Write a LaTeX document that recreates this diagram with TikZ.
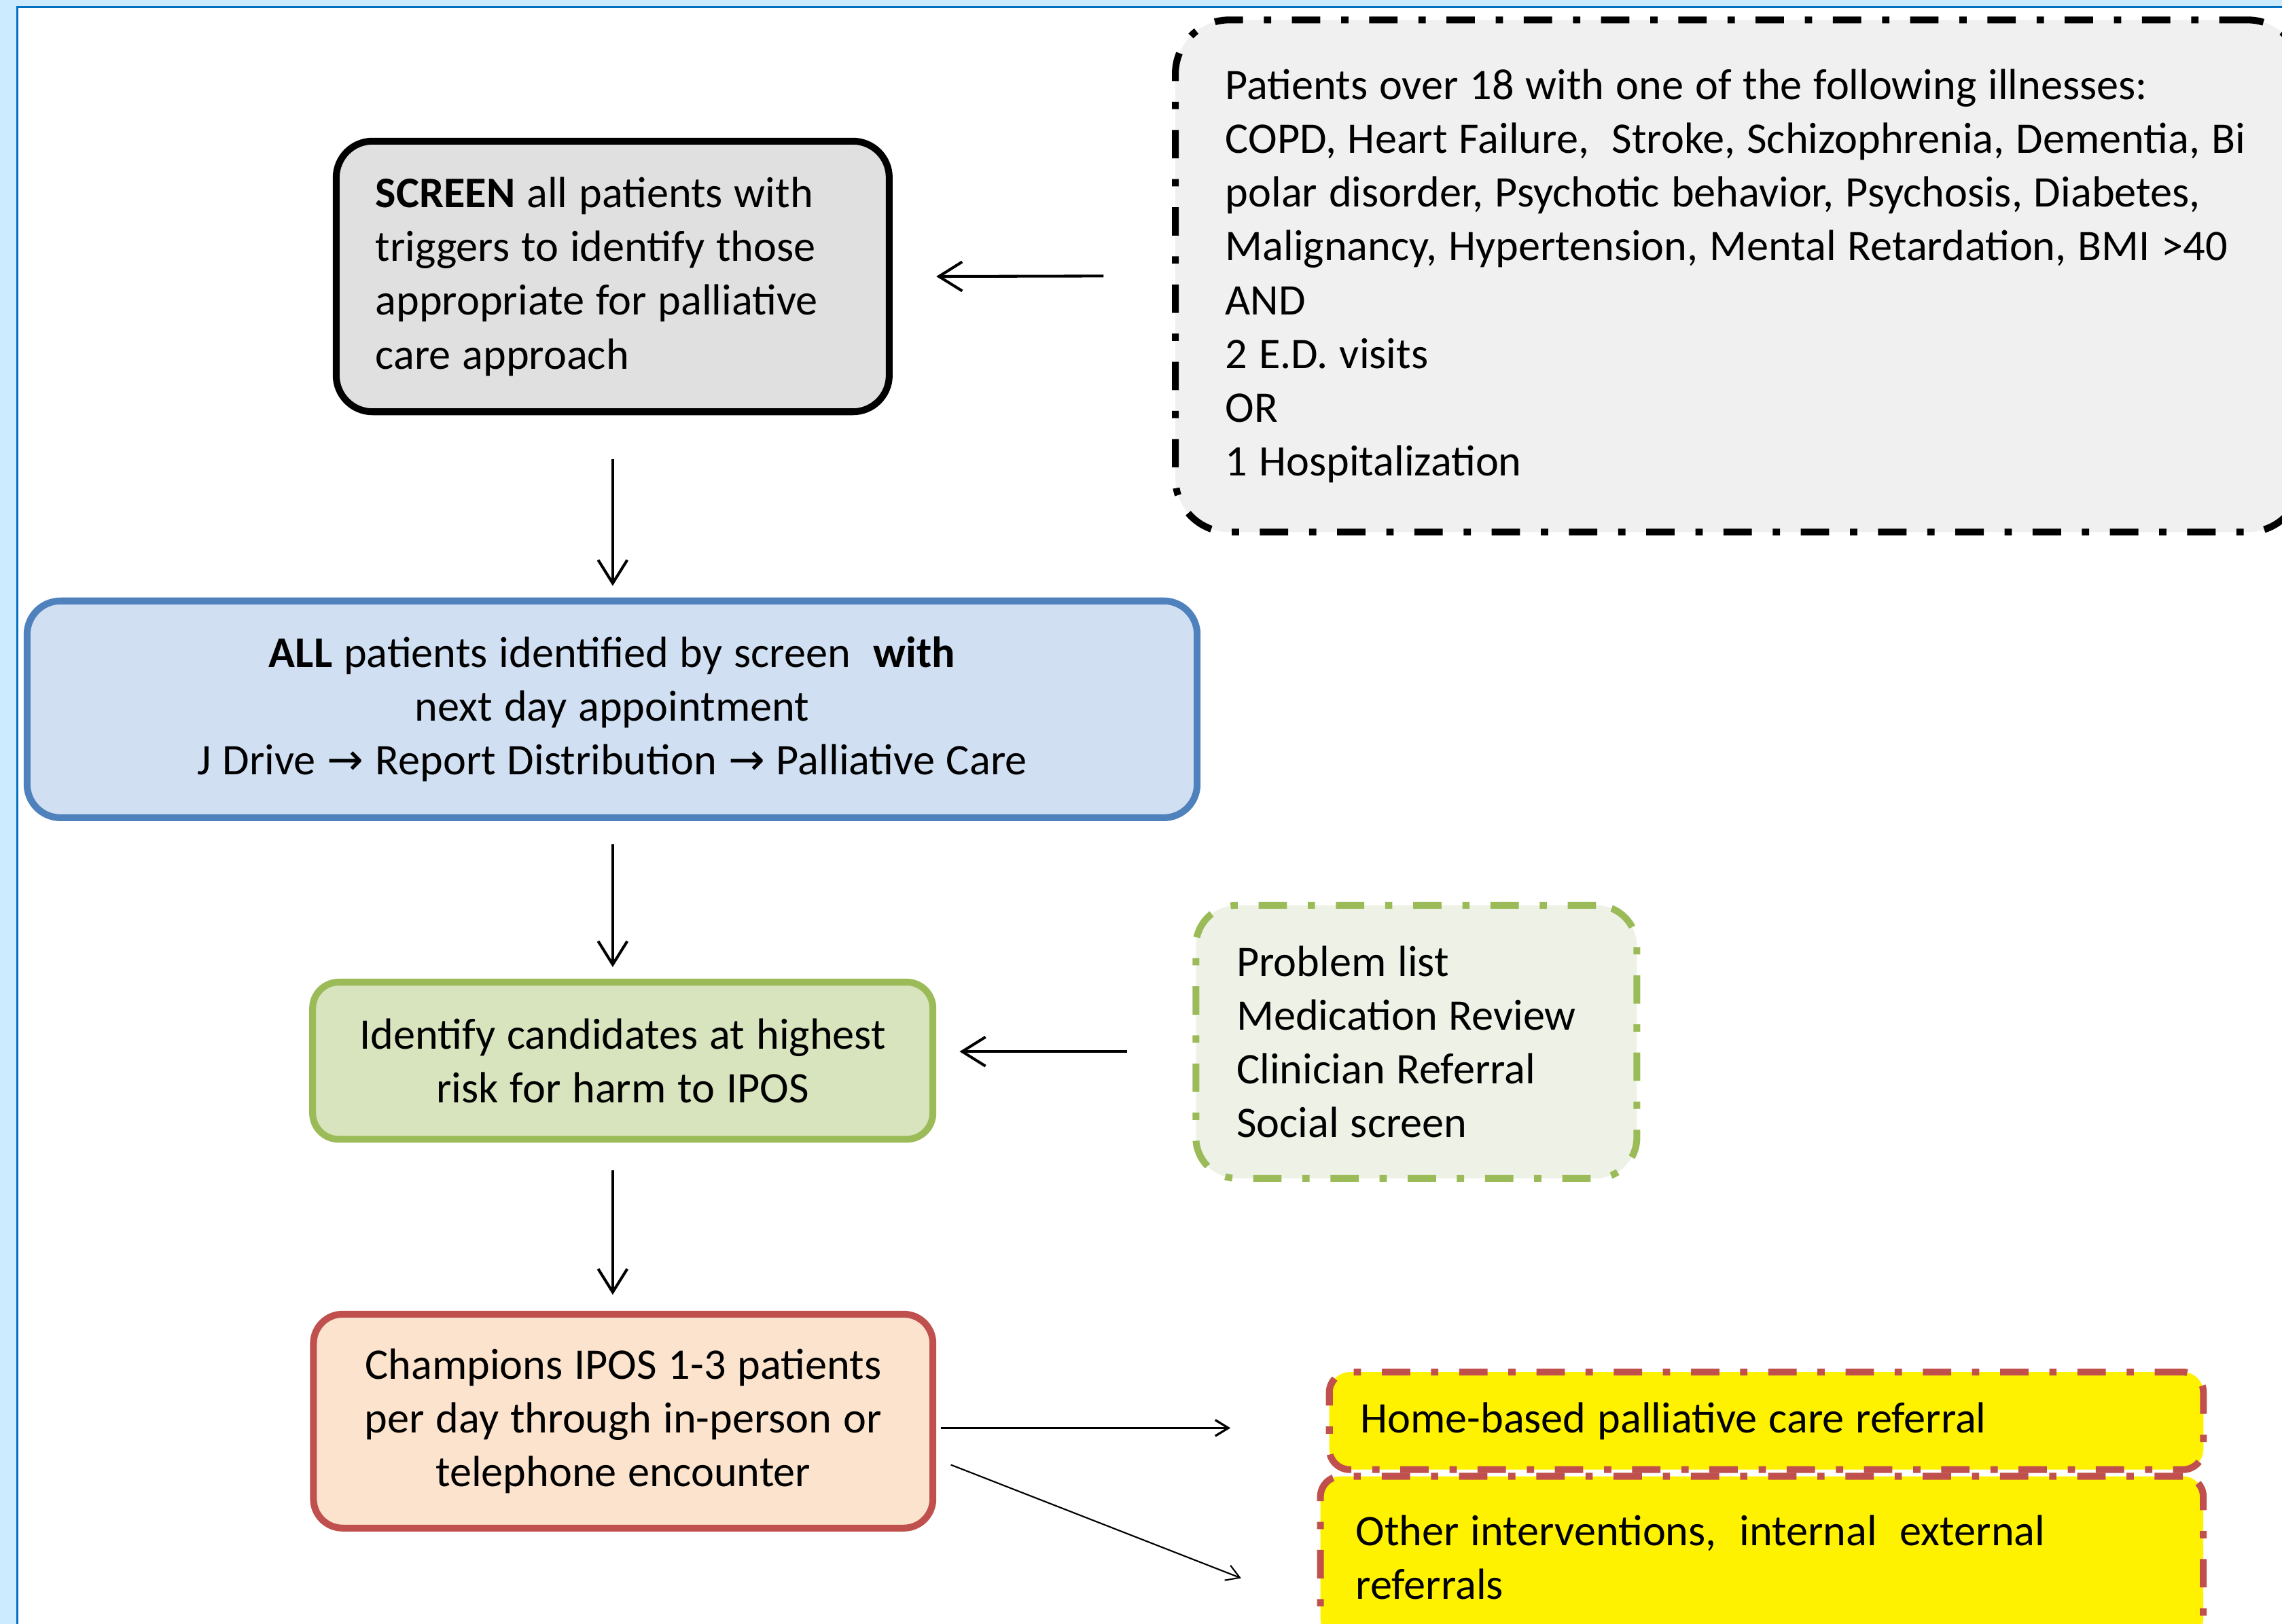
\documentclass[tikz,border=0pt]{standalone}
\usepackage{fontspec}
\setmainfont{Carlito}
\newfontfamily\dejavu{DejaVu Sans}
\usepackage{tikz}
\usetikzlibrary{arrows.meta}
\definecolor{BGblue}{HTML}{CCEBFF}
\definecolor{FRAMEblue}{HTML}{0070C0}
\definecolor{SCRfill}{HTML}{E0E0E0}
\definecolor{CRITfill}{HTML}{F0F0F0}
\definecolor{ALLfill}{HTML}{D0DFF2}
\definecolor{ALLline}{HTML}{4F81BD}
\definecolor{IDfill}{HTML}{D7E4BD}
\definecolor{IDline}{HTML}{9BBB59}
\definecolor{TOOLfill}{HTML}{EEF2E6}
\definecolor{CHfill}{HTML}{FBE3CD}
\definecolor{CHline}{HTML}{C0504D}

\begin{document}
\begin{tikzpicture}[x=1pt, y=-1pt]
    \tikzset{%
        box/.style={draw, line width=4.7pt, inner ysep=0pt, font=\fontsize{30}{37}\selectfont,
            execute at begin node={\spaceskip=7.9pt\relax}},
        dashdot/.style={dash pattern=on 19.5pt off 14.3pt on 5pt off 14.3pt},
        arr/.style={line width=1.9pt, -{Straight Barb[length=16pt,width=20pt]}},
        thinarr/.style={line width=#1, -{Straight Barb[length=9pt,width=11pt]}}
    }

    \clip (0, 0) rectangle (1568, 1116);
    \fill [BGblue] (0, 0) rectangle (1568, 1116);
    \fill [white] (12, 5) rectangle (1568, 1116);
    \draw [FRAMEblue, line width=1.4pt] (12, 1116) -- (12, 5) -- (1568, 5);

    \node [box, draw=black, fill=SCRfill, rounded corners=25pt, minimum height=186pt, text width=326pt, inner xsep=27pt, align=left] (screen) at (421, 190)
        {\textbf{SCREEN} all patients with\\ triggers to identify those\\ appropriate for palliative\\ care approach};
    \node [box, dashdot, draw=black, fill=CRITfill, rounded corners=37pt, minimum height=352pt, text width=705pt, inner xsep=34.4pt, align=left] (crit) at (1194.5, 189.7)
        {Patients over 18 with one of the following illnesses:\\ COPD, Heart Failure,~ Stroke, Schizophrenia, Dementia, Bi\\ polar disorder, Psychotic behavior, Psychosis, Diabetes,\\ Malignancy, Hypertension, Mental Retardation, BMI >40\\ AND\\ 2 E.D. visits\\ OR\\ 1 Hospitalization};
    \node [box, draw=ALLline, fill=ALLfill, rounded corners=23pt, minimum height=149pt, text width=760pt, inner xsep=22pt, align=center] (allpat) at (420.6, 487.5)
        {\textbf{ALL} patients identified by screen~ \textbf{with}\\ next day appointment\\ J Drive {\dejavu →} Report Distribution {\dejavu →} Palliative Care};
    \node [box, draw=IDline, fill=IDfill, rounded corners=18pt, minimum height=108pt, text width=390pt, inner xsep=18.1pt, align=center] (ident) at (427.9, 729)
        {Identify candidates at highest\\ risk for harm to IPOS};
    \node [box, dashdot, draw=IDline, fill=TOOLfill, rounded corners=28pt, minimum height=187.6pt, text width=247pt, inner xsep=28pt, align=left] (tools) at (973.2, 716)
        {Problem list\\ Medication Review\\ Clinician Referral\\ Social screen};
    \node [box, draw=CHline, fill=CHfill, rounded corners=20pt, minimum height=147pt, text width=390pt, inner xsep=17.8pt, align=center] (champ) at (428.2, 976.7)
        {Champions IPOS 1-3 patients\\ per day through in-person or\\ telephone encounter};
    \node [box, dashdot, draw=CHline, fill=yellow, rounded corners=14pt, minimum height=67pt, text width=558pt, inner xsep=21.3pt, align=left] (home) at (1213.7, 976.5)
        {Home-based palliative care referral};
    \node [box, dashdot, draw=CHline, fill=yellow, rounded corners=14pt, minimum height=111.4pt, text width=558pt, inner xsep=24.3pt, align=left] (other) at (1210.6, 1070.3)
        {Other interventions,~ internal~ external\\ referrals};

    \draw [arr] ([yshift=-30pt]screen.south) -- ([yshift=8pt]screen.south |- allpat.north);
    \draw [arr] ([xshift=-47pt]crit.west) -- ([xshift=30pt]screen.east);
    \draw [arr] ([yshift=-16pt]screen.south |- allpat.south) -- ([yshift=8pt]screen.south |- ident.north);
    \coordinate (toolsin) at ([xshift=-45pt, yshift=-6.7pt]tools.west);
    \draw [arr] (toolsin) -- ([xshift=16pt]toolsin -| ident.east);
    \draw [arr] ([yshift=-19pt]screen.south |- ident.south) -- ([yshift=11pt]screen.south |- champ.north);
    \draw [thinarr=1.5pt] ([xshift=3pt, yshift=-4.7pt]champ.east) -- ([xshift=-65.6pt, yshift=-4.9pt]home.west);
    \draw [thinarr=1pt] ([xshift=10pt, yshift=-30pt]champ.east) -- ([xshift=-52.2pt, yshift=-14.3pt]other.west);
\end{tikzpicture}
\end{document}
